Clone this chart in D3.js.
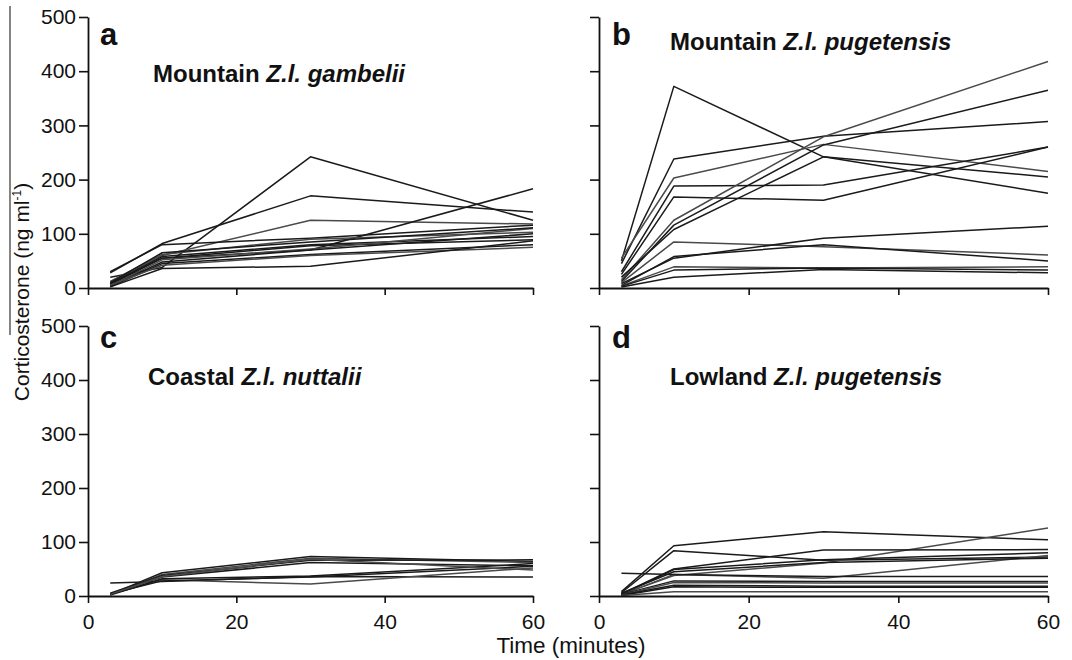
<!DOCTYPE html>
<html>
<head>
<meta charset="utf-8">
<script src="https://cdn.jsdelivr.net/npm/d3@7"></script>
<style>
  html, body { margin: 0; padding: 0; background: #fff; }
  svg { display: block; }
  text { font-family: "Liberation Sans", Arial, Helvetica, sans-serif; fill: #111; }
</style>
</head>
<body>
<svg id="chart" width="1072" height="660"></svg>
<script>
// ---- data ----
const times = [3, 10, 30, 60];
const xTicks = [0, 20, 40, 60];
const yTicks = [0, 100, 200, 300, 400, 500];

const panelLetters = ["a", "b", "c", "d"];
const titlePlain = ["Mountain ", "Mountain ", "Coastal ", "Lowland "];
const titleItalic = ["Z.l. gambelii", "Z.l. pugetensis", "Z.l. nuttalii", "Z.l. pugetensis"];

// corticosterone (ng/ml) at 3, 10, 30, 60 min, one row per bird
const seriesA = [
  [20, 38, 242, 125],
  [28, 82, 170, 140],
  [10, 60, 125, 118],
  [8, 55, 70, 183],
  [30, 80, 92, 116],
  [12, 62, 90, 103],
  [8, 58, 80, 95],
  [6, 55, 78, 89],
  [4, 52, 72, 110],
  [3, 48, 70, 100],
  [2, 45, 62, 80],
  [5, 42, 60, 75],
  [2, 36, 40, 87],
  [10, 65, 85, 111]
];
const seriesB = [
  [50, 372, 242, 175],
  [45, 238, 280, 307],
  [55, 203, 265, 215],
  [30, 188, 190, 260],
  [25, 168, 162, 260],
  [15, 125, 279, 418],
  [12, 116, 264, 365],
  [20, 108, 242, 205],
  [10, 85, 76, 61],
  [8, 55, 92, 114],
  [5, 58, 80, 50],
  [4, 39, 37, 39],
  [3, 33, 37, 33],
  [2, 20, 34, 28]
];
const seriesC = [
  [24, 27, 36, 35],
  [3, 43, 73, 64],
  [2, 40, 70, 62],
  [5, 38, 66, 67],
  [4, 35, 62, 56],
  [3, 30, 22, 52],
  [2, 32, 37, 60],
  [4, 28, 35, 55],
  [3, 36, 68, 48]
];
const seriesD = [
  [8, 93, 119, 104],
  [6, 84, 66, 72],
  [3, 38, 61, 126],
  [4, 50, 85, 86],
  [3, 49, 67, 80],
  [2, 40, 33, 75],
  [42, 40, 36, 36],
  [3, 28, 27, 27],
  [2, 25, 24, 24],
  [2, 20, 18, 18],
  [1, 17, 16, 16],
  [1, 8, 8, 8],
  [5, 45, 62, 70]
];

const allSeries = [seriesA, seriesB, seriesC, seriesD];

// ---- layout ----
const svg = d3.select("#chart");
const panels = [
  { x0: 88, x1: 533, y0: 288, y1: 17, xLabels: false, yLabels: true },
  { x0: 599, x1: 1048, y0: 288, y1: 17, xLabels: false, yLabels: false },
  { x0: 88, x1: 533, y0: 596, y1: 326, xLabels: true, yLabels: true },
  { x0: 599, x1: 1048, y0: 596, y1: 326, xLabels: true, yLabels: false }
];
const tickFont = 21;

panels.forEach((p, i) => {
  const x = d3.scaleLinear().domain([0, 60]).range([p.x0, p.x1]);
  const y = d3.scaleLinear().domain([0, 500]).range([p.y0, p.y1]);
  const g = svg.append("g");

  // lines
  const line = d3.line().x((d, k) => x(times[k])).y(d => y(d));
  g.selectAll("path.bird")
    .data(allSeries[i])
    .join("path")
    .attr("class", "bird")
    .attr("d", d => line(d))
    .attr("fill", "none")
    .attr("stroke", (d, k) => (k % 3 === 2 ? "#4a4a4a" : "#1a1a1a"))
    .attr("stroke-width", 1.5)
    .attr("stroke-linejoin", "round");

  // y axis
  const ya = d3.axisLeft(y).tickValues(yTicks).tickSize(9).tickSizeOuter(0).tickPadding(3)
    .tickFormat(p.yLabels ? d3.format("d") : () => "");
  const yg = g.append("g").attr("transform", `translate(${p.x0},0)`).call(ya);
  yg.select(".domain").attr("stroke", "#111").attr("stroke-width", 1.8);
  yg.selectAll(".tick line").attr("stroke", "#111").attr("stroke-width", 1.6);
  yg.selectAll(".tick text").attr("font-size", tickFont).attr("font-family", "Liberation Sans, Arial, sans-serif").attr("fill", "#111");

  // x axis
  const xa = d3.axisBottom(x).tickValues(xTicks).tickSize(7).tickSizeOuter(0).tickPadding(11)
    .tickFormat(p.xLabels ? d3.format("d") : () => "");
  const xg = g.append("g").attr("transform", `translate(0,${p.y0})`).call(xa);
  xg.select(".domain").attr("stroke", "#111").attr("stroke-width", 1.8);
  xg.selectAll(".tick line").attr("stroke", "#111").attr("stroke-width", 1.6);
  xg.selectAll(".tick text").attr("font-size", tickFont).attr("font-family", "Liberation Sans, Arial, sans-serif").attr("fill", "#111");

  // panel letter
  const isRight = i % 2 === 1;
  g.append("text")
    .attr("x", p.x0 + (isRight ? 13 : 12))
    .attr("y", p.y1 + (i < 2 ? 28 : 22))
    .attr("font-size", 31)
    .attr("font-weight", "bold")
    .text(panelLetters[i]);

  // title
  const titleX = [153, 670, 148, 670][i];
  const titleY = [82, 50, 385, 385][i];
  const t = g.append("text")
    .attr("x", titleX)
    .attr("y", titleY)
    .attr("font-size", 24)
    .attr("font-weight", "bold");
  t.append("tspan").text(titlePlain[i]);
  t.append("tspan").attr("font-style", "italic").text(titleItalic[i]);
});

// y axis label
const yl = svg.append("text")
  .attr("transform", "translate(29,292) rotate(-90)")
  .attr("text-anchor", "middle")
  .attr("font-size", 21);
yl.append("tspan").text("Corticosterone (ng ml");
yl.append("tspan").attr("font-size", 12).attr("dy", -8).text("-1");
yl.append("tspan").attr("dy", 8).text(")");

// x axis label
svg.append("text")
  .attr("x", 571)
  .attr("y", 653)
  .attr("text-anchor", "middle")
  .attr("font-size", 22.5)
  .text("Time (minutes)");

// stray frame line at far left
svg.append("line")
  .attr("x1", 10).attr("x2", 10)
  .attr("y1", 6).attr("y2", 335)
  .attr("stroke", "#333").attr("stroke-width", 1.2);
</script>
</body>
</html>
